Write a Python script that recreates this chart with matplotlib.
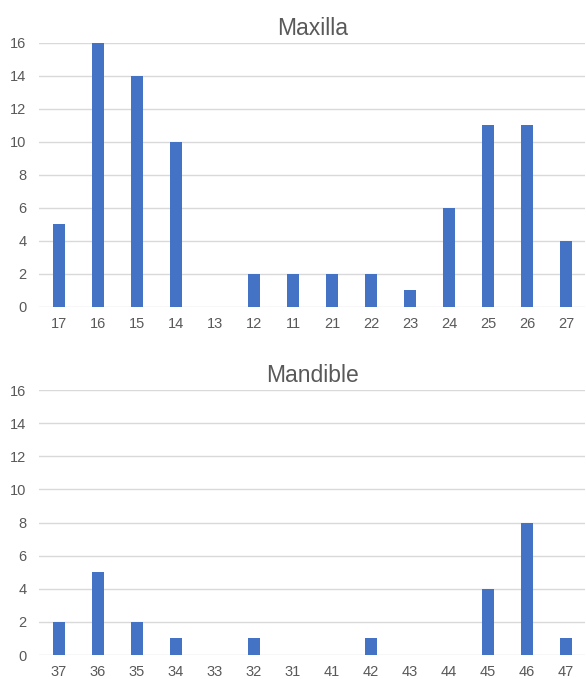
import numpy as np
import matplotlib
matplotlib.use('Agg')
import matplotlib.pyplot as plt

plt.rcParams['font.family'] = ['Liberation Sans', 'DejaVu Sans']

maxilla_teeth = ['17', '16', '15', '14', '13', '12', '11', '21', '22', '23', '24', '25', '26', '27']
maxilla_counts = [5, 16, 14, 10, 0, 2, 2, 2, 2, 1, 6, 11, 11, 4]

mandible_teeth = ['37', '36', '35', '34', '33', '32', '31', '41', '42', '43', '44', '45', '46', '47']
mandible_counts = [2, 5, 2, 1, 0, 1, 0, 0, 1, 0, 0, 4, 8, 1]

bar_color = '#4472C4'
grid_color = '#d9d9d9'
text_color = '#595959'


def draw_panel(ax, teeth, counts, title):
    x = np.arange(len(teeth))
    ax.bar(x, counts, width=0.31, color=bar_color, zorder=3)
    ax.set_xlim(-0.5, len(teeth) - 0.5)
    ax.set_ylim(0, 16)
    ax.set_yticks(range(0, 17, 2))
    ax.set_xticks(x)
    ax.set_xticklabels(teeth)
    ax.yaxis.grid(True, color=grid_color, linewidth=1, zorder=0)
    for s in ax.spines.values():
        s.set_visible(False)
    ax.tick_params(axis='both', length=0, colors=text_color, labelsize=10.5)
    ax.tick_params(axis='y', pad=9.5)
    ax.tick_params(axis='x', pad=7)
    ax.set_title(title, fontsize=16.5, color=text_color, pad=6)


fig = plt.figure(figsize=(5.86, 6.79), dpi=100)
ax1 = fig.add_axes([0.0674, 0.5479, 0.9317, 0.3888])
ax2 = fig.add_axes([0.0674, 0.0353, 0.9317, 0.3903])

draw_panel(ax1, maxilla_teeth, maxilla_counts, 'Maxilla')
draw_panel(ax2, mandible_teeth, mandible_counts, 'Mandible')

plt.savefig('out.png', dpi=100)
